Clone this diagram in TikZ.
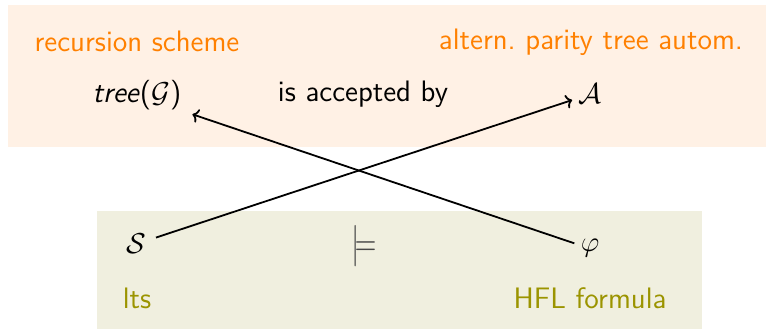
\documentclass[tikz,border=0pt]{standalone}
\usepackage{fontspec}
\usepackage{graphicx}
\usetikzlibrary{arrows.meta}
\renewcommand\familydefault{\sfdefault}
\definecolor{topbg}{RGB}{255,241,229}
\definecolor{botbg}{RGB}{240,239,223}
\definecolor{lblorange}{RGB}{255,128,0}
\definecolor{lblolive}{RGB}{155,148,0}
\begin{document}
\begin{tikzpicture}[x=0.5pt,y=-0.5pt,
  every node/.style={font=\fontsize{14.8}{17}\selectfont, inner sep=3pt},
  toplbl/.style={text=lblorange, anchor=base},
  botlbl/.style={text=lblolive, anchor=base},
  conn/.style={line width=0.9pt, -{To[length=3pt,width=7pt]}}]
\useasboundingbox (0,0) rectangle (766,331);
\fill[topbg] (8,5) rectangle (766,147);
\fill[botbg] (97,211) rectangle (702,329);
\node[toplbl] (rs) at (137,52) {recursion scheme};
\node[toplbl] (ap) at (591,50) {altern.\ parity tree autom.};
\node[anchor=base] (tree) at (137,103) {\textit{tree}($\mathcal{G}$)};
\node[anchor=base] (acc) at (363,102) {is accepted by};
\node[anchor=base] (A) at (590,104) {$\mathcal{A}$};
\node[anchor=base] (S) at (136,254) {$\mathcal{S}$};
\node[anchor=base, text=black!72, font=\fontsize{21}{24}\selectfont] (models) at (364,257) {\scalebox{0.72}[1]{$\models$}};
\node[anchor=base] (phi) at (590,252) {$\varphi$};
\node[botlbl] (lts) at (137,309) {lts};
\node[botlbl] (hfl) at (590,309) {HFL formula};
\draw[conn, shorten >=2.5pt] (phi) -- (tree);
\draw[conn, shorten <=2pt] (S) -- (A);
\end{tikzpicture}
\end{document}
